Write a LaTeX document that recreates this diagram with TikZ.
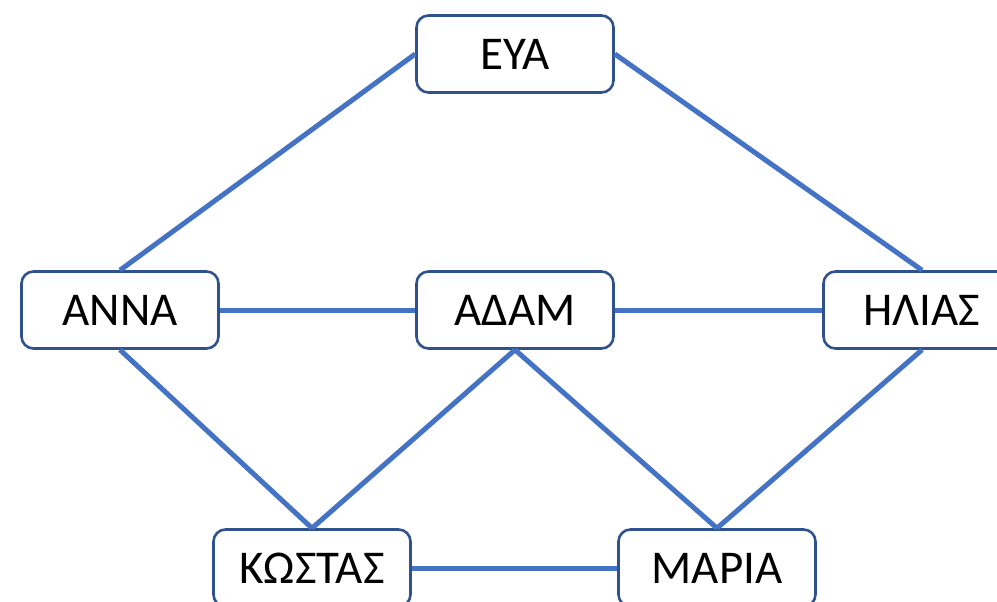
\documentclass[tikz,border=0pt]{standalone}
\usepackage{fontspec}
\setmainfont{Carlito}
\begin{document}
\begin{tikzpicture}[x=1pt,y=-1pt,
  person/.style={draw=boxline, line width=2.6pt, rounded corners=12pt, fill=white,
    minimum width=197pt, minimum height=77pt, inner sep=0pt,
    font=\fontsize{47}{54}\selectfont, text=black},
  link/.style={draw=linkblue, line width=5pt}]
\definecolor{boxline}{HTML}{2F528F}
\definecolor{linkblue}{HTML}{4472C4}
\useasboundingbox (0,0) rectangle (997,602);
% people
\node[person] (eva)    at (515,54)  {ΕΥΑ};
\node[person] (anna)   at (120,310) {ΑΝΝΑ};
\node[person] (adam)   at (515,310) {ΑΔΑΜ};
\node[person] (ilias)  at (922,310) {ΗΛΙΑΣ};
\node[person] (kostas) at (312,568) {ΚΩΣΤΑΣ};
\node[person] (maria)  at (717,568) {ΜΑΡΙΑ};
% relations
\draw[link] (eva.west) -- (anna.north);
\draw[link] (eva.east) -- (ilias.north);
\draw[link] (anna.east) -- (adam.west);
\draw[link] (adam.east) -- (ilias.west);
\draw[link] (anna.south) -- (kostas.north);
\draw[link] (adam.south) -- (kostas.north);
\draw[link] (adam.south) -- (maria.north);
\draw[link] (ilias.south) -- (maria.north);
\draw[link] (kostas.east) -- (maria.west);
\end{tikzpicture}
\end{document}
